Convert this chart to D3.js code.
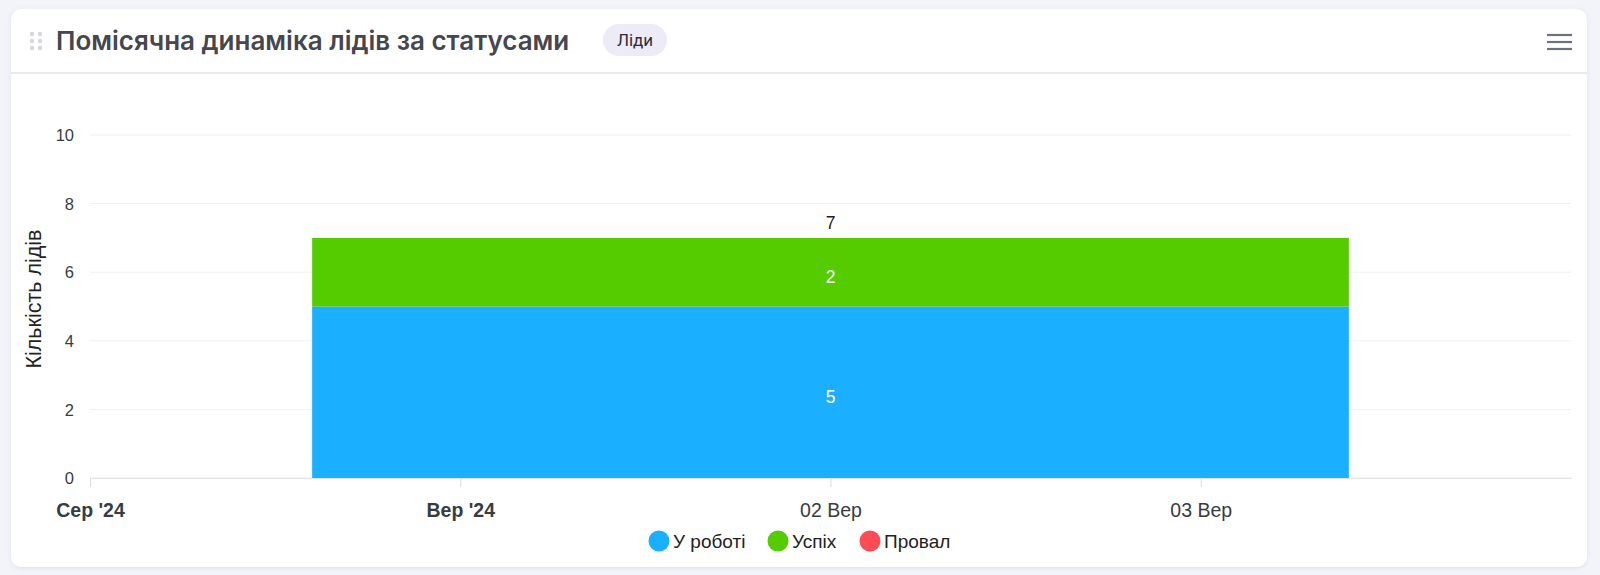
<!DOCTYPE html>
<meta charset="utf-8">
<style>
    body { margin: 0; background: #f3f4f9; }
    svg { display: block; }
    .grid line { stroke: #efeff1; stroke-width: 1px; }
    .axis text { font-family: 'Liberation Sans', Arial, sans-serif; fill: #373d3f; }
</style>
<script src="https://cdn.jsdelivr.net/npm/d3@7"></script>
<body>
<div id="chart"></div>
<script>
    // chart data
    var categories = ["Сер '24", "Вер '24", "02 Вер", "03 Вер"];
    var boldCats = ["Сер '24", "Вер '24"];
    var seriesNames = ["У роботі", "Успіх", "Провал"];
    var seriesColors = ["#1ab0ff", "#55cc00", "#ff4b55"];
    var barCategory = "02 Вер";
    var barValues = [5, 2, 0];
    var yTicks = [0, 2, 4, 6, 8, 10];
    var title = "Помісячна динаміка лідів за статусами";
    var badge = "Ліди";
    var yTitle = "Кількість лідів";

    var W = 1600, H = 575;
    var svg = d3.select("#chart").append("svg")
        .attr("width", W)
        .attr("height", H);

    var defs = svg.append("defs");
    var f = defs.append("filter").attr("id", "shadow")
        .attr("x", "-5%").attr("y", "-5%").attr("width", "110%").attr("height", "115%");
    f.append("feDropShadow").attr("dx", 0).attr("dy", 1).attr("stdDeviation", 2)
        .attr("flood-color", "#8890a8").attr("flood-opacity", 0.22);

    // card
    svg.append("rect")
        .attr("x", 11).attr("y", 9)
        .attr("width", 1576).attr("height", 558)
        .attr("rx", 10)
        .attr("fill", "#fff")
        .attr("filter", "url(#shadow)");

    svg.append("line")
        .attr("x1", 11).attr("x2", 1587)
        .attr("y1", 73).attr("y2", 73)
        .attr("stroke", "#e2e3e8").attr("stroke-width", 1.5);

    // drag handle
    [32, 40].forEach(function (cx) {
        [34, 41, 48].forEach(function (cy) {
            svg.append("circle").attr("cx", cx).attr("cy", cy).attr("r", 2.2).attr("fill", "#d6d7dc");
        });
    });

    svg.append("text")
        .attr("x", 56).attr("y", 50)
        .style("font-family", "Inter, Roboto, sans-serif")
        .style("font-weight", 600)
        .style("font-size", "26px")
        .attr("fill", "#45464e")
        .text(title);

    svg.append("rect")
        .attr("x", 603).attr("y", 24)
        .attr("width", 64).attr("height", 32)
        .attr("rx", 16)
        .attr("fill", "#ecebf7");
    svg.append("text")
        .attr("x", 635).attr("y", 46)
        .attr("text-anchor", "middle")
        .style("font-family", "Roboto, sans-serif")
        .style("font-size", "17px")
        .attr("fill", "#2e2e3a")
        .text(badge);

    // hamburger
    [35, 42, 49].forEach(function (y) {
        svg.append("line")
            .attr("x1", 1547).attr("x2", 1572)
            .attr("y1", y).attr("y2", y)
            .attr("stroke", "#6e7280").attr("stroke-width", 2.2);
    });

    // scales
    var x = d3.scaleLinear().domain([0, categories.length]).range([90, 1571]);
    var y = d3.scaleLinear().domain([0, 10]).range([478, 135]);
    var barWidthUnits = 2.8;

    var g = svg.append("g");

    g.append("g")
        .attr("class", "grid")
        .selectAll("line")
        .data(yTicks)
        .enter().append("line")
        .attr("x1", x(0)).attr("x2", x(categories.length))
        .attr("y1", function (d) { return y(d); })
        .attr("y2", function (d) { return y(d); });

    var yAxis = g.append("g")
        .attr("class", "axis")
        .attr("transform", "translate(74,0)")
        .call(d3.axisLeft(y).tickValues(yTicks).tickSize(0).tickPadding(0));
    yAxis.select(".domain").remove();
    yAxis.selectAll("text").style("font-size", "16.5px").attr("dy", "0.34em");

    g.append("text")
        .attr("transform", "translate(41,299) rotate(-90)")
        .attr("text-anchor", "middle")
        .style("font-family", "'Liberation Sans', Arial, sans-serif")
        .style("font-size", "21.5px")
        .attr("fill", "#222")
        .text(yTitle);

    // stacked bar
    var ci = categories.indexOf(barCategory);
    var stack = [];
    var acc = 0;
    barValues.forEach(function (v, i) {
        stack.push({ name: seriesNames[i], color: seriesColors[i], y0: acc, y1: acc + v, v: v });
        acc += v;
    });

    g.selectAll("rect.bar")
        .data(stack.filter(function (d) { return d.v > 0; }))
        .enter().append("rect")
        .attr("class", "bar")
        .attr("x", x(ci - barWidthUnits / 2))
        .attr("width", x(barWidthUnits) - x(0))
        .attr("y", function (d) { return y(d.y1); })
        .attr("height", function (d) { return y(d.y0) - y(d.y1); })
        .attr("fill", function (d) { return d.color; });

    g.selectAll("text.seglabel")
        .data(stack.filter(function (d) { return d.v > 0; }))
        .enter().append("text")
        .attr("class", "seglabel")
        .attr("x", x(ci))
        .attr("y", function (d) { return (y(d.y0) + y(d.y1)) / 2 + 5; })
        .attr("dy", "0.35em")
        .attr("text-anchor", "middle")
        .style("font-family", "'Liberation Sans', Arial, sans-serif")
        .style("font-size", "17.5px")
        .attr("fill", "#fff")
        .text(function (d) { return d.v; });

    g.append("text")
        .attr("x", x(ci))
        .attr("y", y(acc) - 15)
        .attr("dy", "0.35em")
        .attr("text-anchor", "middle")
        .style("font-family", "'Liberation Sans', Arial, sans-serif")
        .style("font-size", "17.5px")
        .attr("fill", "#222")
        .text(acc);

    // x axis
    var xAxis = g.append("g")
        .attr("class", "axis")
        .attr("transform", "translate(0,478)")
        .call(d3.axisBottom(x)
            .tickValues(d3.range(categories.length))
            .tickFormat(function (i) { return categories[i]; })
            .tickSize(9).tickPadding(16)
            .tickSizeOuter(0));
    xAxis.select(".domain").attr("stroke", "#e3e3e6");
    xAxis.selectAll(".tick line").attr("stroke", "#dcdcdf");
    xAxis.selectAll("text")
        .style("font-size", "19.5px")
        .style("font-weight", function (d) { return boldCats.indexOf(categories[d]) >= 0 ? 700 : 400; });

    // legend
    var legendX = [659, 778, 870];
    var legend = g.append("g").selectAll("g")
        .data(seriesNames)
        .enter().append("g")
        .attr("transform", function (d, i) { return "translate(" + legendX[i] + ",541)"; });
    legend.append("circle")
        .attr("r", 10.5)
        .attr("fill", function (d, i) { return seriesColors[i]; });
    legend.append("text")
        .attr("x", 14)
        .attr("dy", "0.35em")
        .style("font-family", "'Liberation Sans', Arial, sans-serif")
        .style("font-size", "19px")
        .attr("fill", "#222")
        .text(function (d) { return d; });
</script>
</body>
